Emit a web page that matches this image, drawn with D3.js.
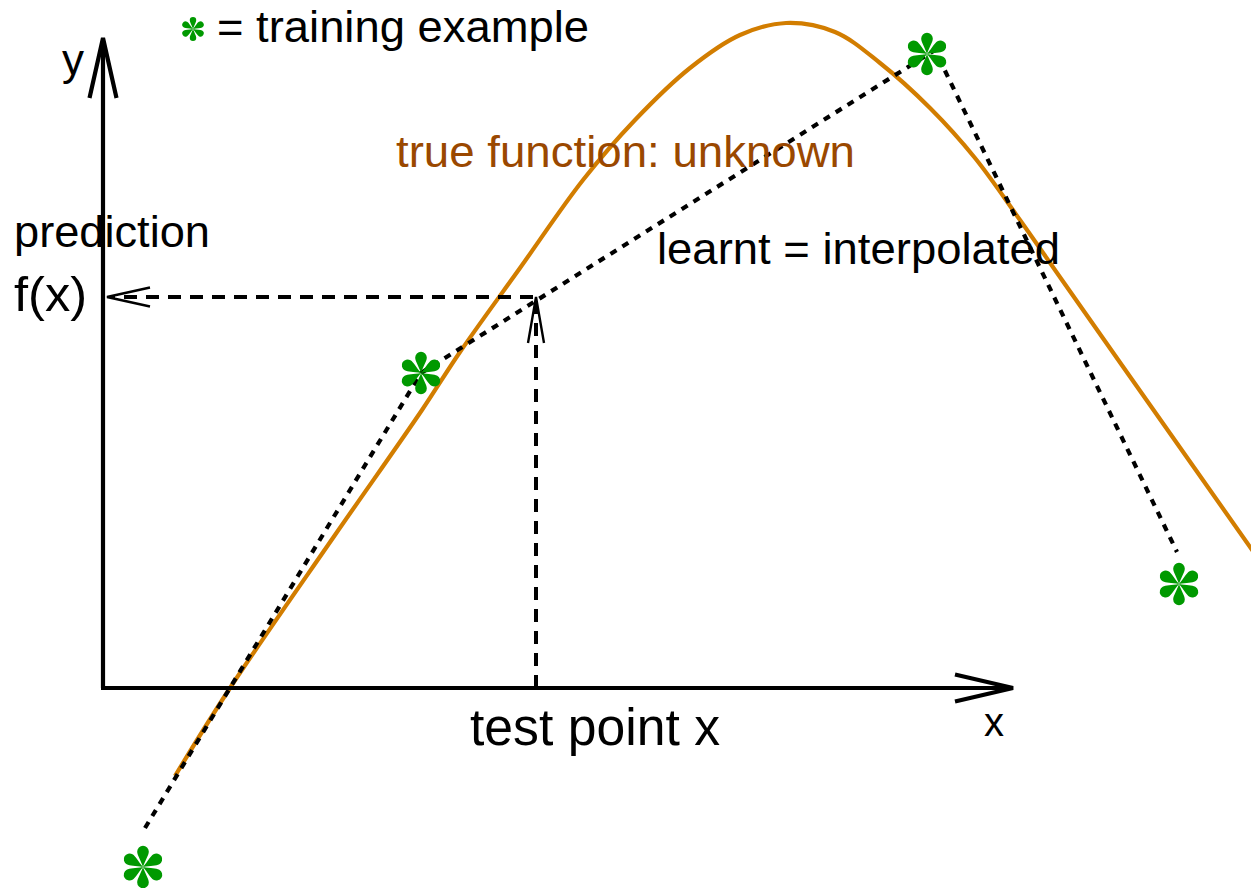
<!DOCTYPE html>
<html>
<head>
<meta charset="utf-8">
<script src="https://cdn.jsdelivr.net/npm/d3@7"></script>
<style>
  html, body { margin: 0; padding: 0; background: #fff; }
  svg { display: block; }
  text { font-family: "Liberation Sans", Arial, Helvetica, sans-serif; }
</style>
</head>
<body>
<svg id="chart" width="1251" height="888"></svg>
<script>
// ---- data (diagram units) ----
const trueFunction = [
  [7.2,-8.8],[12.7,0],[23.2,15.3],[31.9,27.8],[35.7,33.6],[41.7,42.0],[48.0,50.8],
  [53.2,56.8],[58.7,62.0],[63.7,65.3],[68.3,66.5],[73.2,65.6],[77.7,62.5],[82.7,58.0],
  [87.2,53.0],[91.7,46.8],[95.9,40.8],[104.7,28.3],[115.2,13.4]
];
const learntLine = [[4.2,-14.0],[31.8,31.5],[83.2,63.8],[107.4,13.6]];
const trainingExamples = [[4.0,-17.9],[31.8,31.5],[82.4,63.4],[107.6,10.4]];
const testPointX = 43.3;
const predictionY = 39.1;
const axisMax = { x: 91, y: 65 };
const labels = {
  legend: "= training example",
  trueFn: "true function: unknown",
  learnt: "learnt = interpolated",
  prediction: "prediction",
  fx: "f(x)",
  test: "test point x",
  x: "x",
  y: "y"
};

// ---- scales ----
const x = d3.scaleLinear().domain([0, axisMax.x]).range([103, 1013]);
const y = d3.scaleLinear().domain([0, axisMax.y]).range([688, 38]);

const svg = d3.select("#chart");
const GREEN = "#009900", ORANGE = "#d27d00", BROWN = "#9a4800";

// ---- true function ----
svg.append("path")
  .datum(trueFunction)
  .attr("d", d3.line().x(d => x(d[0])).y(d => y(d[1])).curve(d3.curveCatmullRom.alpha(0.5)))
  .attr("fill", "none").attr("stroke", ORANGE).attr("stroke-width", 4.2);

// ---- learnt (interpolated) dotted line ----
svg.append("path")
  .datum(learntLine)
  .attr("d", d3.line().x(d => x(d[0])).y(d => y(d[1])))
  .attr("fill", "none").attr("stroke", "#000").attr("stroke-width", 4.2)
  .attr("stroke-dasharray", "7,7");

// ---- arrows helper ----
function openHead(tipX, tipY, dirX, dirY, len, half, sw) {
  const px = -dirY, py = dirX;
  const bx = tipX - dirX * len, by = tipY - dirY * len;
  svg.append("path")
    .attr("d", `M${bx + px*half},${by + py*half}L${tipX},${tipY}L${bx - px*half},${by - py*half}`)
    .attr("fill", "none").attr("stroke", "#000").attr("stroke-width", sw)
    .attr("stroke-linejoin", "miter");
}

// ---- axes ----
svg.append("line").attr("x1", x(0)).attr("y1", y(0)).attr("x2", x(0)).attr("y2", y(axisMax.y) + 3)
  .attr("stroke", "#000").attr("stroke-width", 4.2);
svg.append("line").attr("x1", x(0) - 2).attr("y1", y(0)).attr("x2", x(axisMax.x) - 3).attr("y2", y(0))
  .attr("stroke", "#000").attr("stroke-width", 4.2);
openHead(x(0), y(axisMax.y), 0, -1, 60, 13.5, 4.2);
openHead(x(axisMax.x), y(0), 1, 0, 58, 13.5, 4.2);

// ---- test point / prediction dashed arrows ----
svg.append("line")
  .attr("x1", x(testPointX)).attr("y1", y(0)).attr("x2", x(testPointX)).attr("y2", y(predictionY) + 4)
  .attr("stroke", "#000").attr("stroke-width", 4).attr("stroke-dasharray", "13,9");
openHead(x(testPointX), y(predictionY), 0, -1, 46, 8, 2.4);

svg.append("line")
  .attr("x1", x(testPointX) - 3).attr("y1", y(predictionY)).attr("x2", x(0) + 8).attr("y2", y(predictionY))
  .attr("stroke", "#000").attr("stroke-width", 4).attr("stroke-dasharray", "13,9");
openHead(x(0) + 4, y(predictionY), -1, 0, 43, 9.5, 2.4);

// ---- asterisk marker ----
function petal(R) {
  return `M0,0 C${-0.12*R},${-0.35*R} ${-0.27*R},${-0.55*R} ${-0.27*R},${-0.72*R}` +
         ` A${0.27*R},${0.27*R} 0 1 1 ${0.27*R},${-0.72*R}` +
         ` C${0.27*R},${-0.55*R} ${0.12*R},${-0.35*R} 0,0 Z`;
}
function asterisk(cx, cy, R) {
  const g = svg.append("g").attr("transform", `translate(${cx},${cy})`);
  g.selectAll("path").data(d3.range(6)).enter().append("path")
    .attr("d", petal(R))
    .attr("transform", i => `rotate(${i * 60})`)
    .attr("fill", GREEN);
}
trainingExamples.forEach(d => asterisk(x(d[0]), y(d[1]), 21.5));
asterisk(193, 29, 12);

// ---- texts ----
function label(txt, px, py, size, color, len) {
  const t = svg.append("text").attr("x", px).attr("y", py)
    .attr("font-size", size).attr("fill", color || "#000").text(txt);
  if (len) t.attr("textLength", len).attr("lengthAdjust", "spacingAndGlyphs");
  return t;
}
label(labels.legend, 217, 42, 45, "#000", 372);
label(labels.trueFn, 396, 167, 45, BROWN, 459);
label(labels.learnt, 657, 264, 45, "#000", 403);
label(labels.prediction, 14, 247, 45, "#000", 196);
label(labels.fx, 14, 311, 49, "#000", 73);
label(labels.test, 470, 745, 51, "#000", 250);
label(labels.y, 62, 75, 44, "#000");
label(labels.x, 984, 736, 40, "#000");
</script>
</body>
</html>
